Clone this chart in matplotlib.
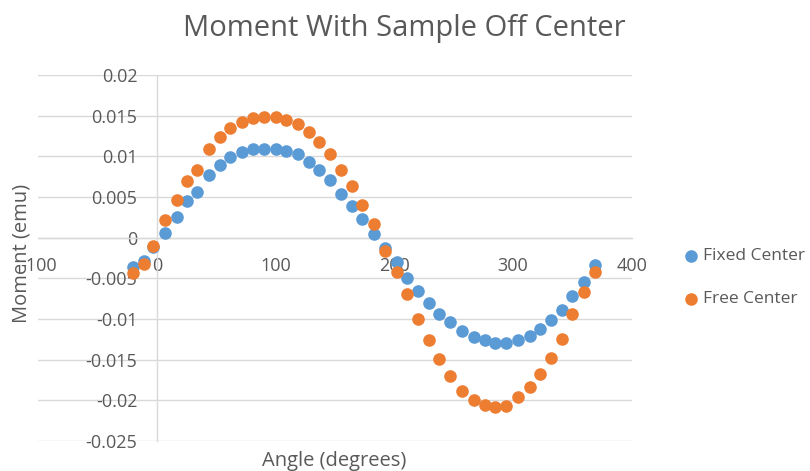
import matplotlib
matplotlib.use("Agg")
import matplotlib.pyplot as plt

# Angle (degrees)
angle = [-20, -11, -3, 7, 17, 25, 34, 44, 53, 62, 72, 81, 90, 100, 109, 119,
         128, 137, 146, 155, 164, 173, 183, 192, 202, 211, 220, 229, 238, 247,
         257, 267, 276, 285, 294, 304, 314, 323, 332, 341, 350, 360, 369]

fixed_center = [-0.00358, -0.00284, -0.0011, 0.00054, 0.00259, 0.00444, 0.0056,
                0.00765, 0.00898, 0.00988, 0.0105, 0.01083, 0.01091, 0.01091,
                0.01062, 0.0103, 0.0093, 0.0083, 0.00709, 0.0054, 0.00389,
                0.00225, 0.00049, -0.00127, -0.00296, -0.00501, -0.00658,
                -0.00798, -0.00942, -0.01037, -0.01152, -0.01222, -0.01263,
                -0.01296, -0.01296, -0.01263, -0.01214, -0.01119, -0.01016,
                -0.00884, -0.00716, -0.00543, -0.00337]

free_center = [-0.0044, -0.00325, -0.00105, 0.00219, 0.00465, 0.00691, 0.00827,
               0.01083, 0.01235, 0.01351, 0.0142, 0.01465, 0.01486, 0.01486,
               0.01444, 0.01398, 0.01299, 0.01169, 0.01025, 0.0083, 0.0063,
               0.004, 0.00167, -0.00162, -0.0042, -0.00699, -0.00995, -0.01254,
               -0.01489, -0.01695, -0.0188, -0.01995, -0.02057, -0.02086,
               -0.02065, -0.01963, -0.0184, -0.01674, -0.01477, -0.01242,
               -0.00942, -0.00674, -0.0042]

x_ticks = [-100, 0, 100, 200, 300, 400]
y_ticks = [-0.025, -0.02, -0.015, -0.01, -0.005, 0, 0.005, 0.01, 0.015, 0.02]
y_tick_labels = ["-0.025", "-0.02", "-0.015", "-0.01", "-0.005", "0",
                 "0.005", "0.01", "0.015", "0.02"]

plt.rcParams["font.family"] = ["Open Sans", "DejaVu Sans"]
text_color = "#595959"
grid_color = "#D9D9D9"

fig = plt.figure(figsize=(8.1, 4.71), dpi=100)
ax = fig.add_axes([0.047, 0.0637, 0.733, 0.7773])

ax.scatter(angle, fixed_center, s=82, color="#5B9BD5", label="Fixed Center",
           zorder=3, linewidths=0)
ax.scatter(angle, free_center, s=82, color="#ED7D31", label="Free Center",
           zorder=4, linewidths=0)

ax.set_xlim(-100, 400)
ax.set_ylim(-0.025, 0.02)
ax.set_xticks(x_ticks)
ax.set_xticklabels([str(t) for t in x_ticks])
ax.set_yticks(y_ticks)
ax.set_yticklabels(y_tick_labels)

ax.spines["left"].set_position(("data", 0))
ax.spines["bottom"].set_position(("data", 0))
for side in ["top", "right"]:
    ax.spines[side].set_visible(False)
for side in ["left", "bottom"]:
    ax.spines[side].set_color(grid_color)
    ax.spines[side].set_linewidth(1)
    ax.spines[side].set_zorder(1)

ax.grid(axis="y", color=grid_color, linewidth=1, zorder=0)
ax.set_axisbelow(True)
ax.tick_params(axis="both", length=0, labelsize=13, labelcolor=text_color)
ax.tick_params(axis="y", pad=14)
ax.tick_params(axis="x", pad=14)

fig.text(0.413, 0.021, "Angle (degrees)", ha="center", va="center",
         fontsize=14.5, color=text_color)
fig.text(0.027, 0.462, "Moment (emu)", ha="center", va="center",
         rotation=90, fontsize=14.5, color=text_color)
fig.text(0.499, 0.94, "Moment With Sample Off Center", ha="center",
         va="center", fontsize=21, color=text_color)

leg = fig.legend(loc="upper left", bbox_to_anchor=(0.829, 0.492),
                 frameon=False, fontsize=12.5, handletextpad=0.0,
                 labelspacing=1.55, markerscale=1.0, borderpad=0,
                 handlelength=1.3)
for t in leg.get_texts():
    t.set_color(text_color)

fig.savefig("out.png", dpi=100)
